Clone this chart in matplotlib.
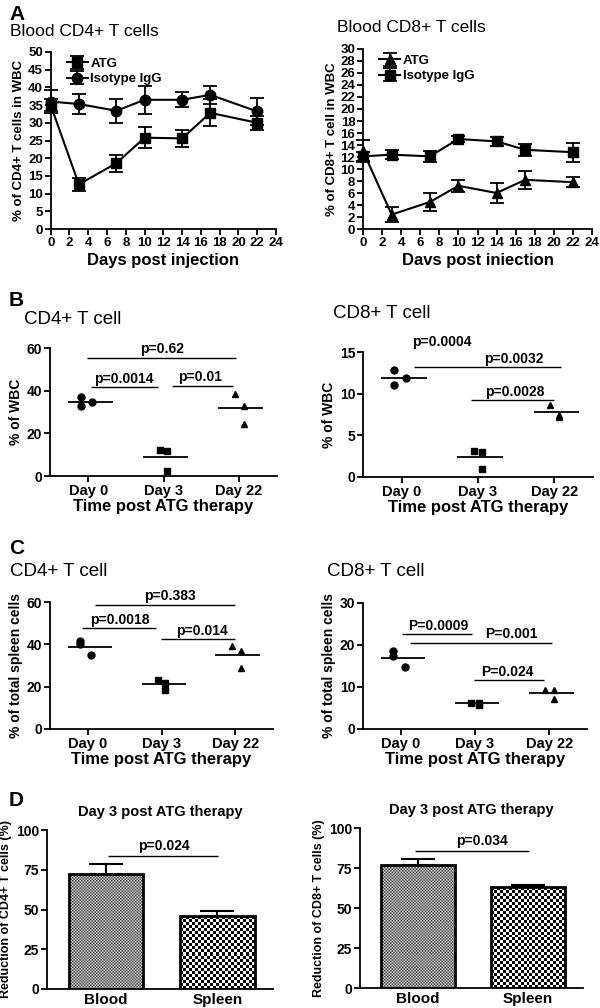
import numpy as np
import matplotlib.pyplot as plt

plt.rcParams['font.family'] = ['Liberation Sans', 'DejaVu Sans']
plt.rcParams['font.weight'] = 'bold'
plt.rcParams['axes.labelweight'] = 'bold'
plt.rcParams['axes.titleweight'] = 'bold'
plt.rcParams['axes.linewidth'] = 1.3

# ---- panel A: blood time course ----
days = [0, 3, 7, 10, 14, 17, 22]
cd4_atg = [35, 12.6, 18.6, 25.8, 25.6, 32.8, 30]
cd4_atg_err = [1.8, 1.8, 2.4, 3.0, 2.5, 3.8, 1.9]
cd4_iso = [36, 35.3, 33.4, 36.5, 36.5, 37.9, 33.2]
cd4_iso_err = [3.2, 2.8, 3.4, 4.0, 2.1, 2.6, 3.8]

cd8_atg = [13, 2.4, 4.5, 7.2, 6.0, 8.2, 7.8]
cd8_atg_err = [1.8, 1.2, 1.5, 1.0, 1.7, 1.5, 0.8]
cd8_iso = [12.1, 12.4, 12.1, 15.0, 14.6, 13.2, 12.8]
cd8_iso_err = [0.8, 0.8, 0.9, 0.5, 0.8, 1.0, 1.6]

groups = ['Day 0', 'Day 3', 'Day 22']

# ---- panel B: % of WBC ----
b_cd4 = [[36.8, 32.7, 34.7], [12.1, 11.5, 2.5], [38.6, 32.9, 24.6]]
b_cd8 = [[12.8, 11.1, 11.9], [3.1, 3.0, 0.96], [8.6, 7.2, 7.5]]

# ---- panel C: % of spleen cells ----
c_cd4 = [[41.6, 40.0, 34.9], [23.0, 18.4, 21.8], [39.3, 36.8, 28.9]]
c_cd8 = [[18.6, 17.3, 14.7], [6.3, 5.8, 6.3], [9.4, 9.2, 7.2]]

# ---- panel D: reduction at day 3 ----
organs = ['Blood', 'Spleen']
d_cd4 = [72.2, 45.8]
d_cd4_err = [6.3, 3.4]
d_cd8 = [76.9, 62.9]
d_cd8_err = [3.9, 1.3]

# horizontal jitter of the dots (as drawn by the original software)
jit = [[-0.1, -0.1, 0.05], [-0.05, 0.05, 0.05], [-0.05, 0.07, 0.07]]

W, H = 600, 1008
fig = plt.figure(figsize=(6, 10.08), dpi=100)


def add_ax(l, t, r, b, ls=10):
    ax = fig.add_axes([l / W, 1 - b / H, (r - l) / W, (b - t) / H])
    for s in ['top', 'right']:
        ax.spines[s].set_visible(False)
    ax.tick_params(direction='out', length=4, width=1.3, labelsize=ls, pad=1.5)
    return ax


def ftext(x, y, s, **kw):
    fig.text(x / W, 1 - y / H, s, **kw)


def course(ax, a, ae, b, be, ma, mb, ymax, ystep, ylab, xlab, la, lb):
    ax.errorbar(days, a, yerr=ae, color='black', marker=ma, ms=7.5, lw=1.5,
                capsize=5, elinewidth=1.3, capthick=1.3, label=la, clip_on=False)
    ax.errorbar(days, b, yerr=be, color='black', marker=mb, ms=7.5, lw=1.5,
                capsize=5, elinewidth=1.3, capthick=1.3, label=lb, clip_on=False)
    ax.set_xlim(0, 24)
    ax.set_ylim(0, ymax)
    ax.set_xticks(range(0, 25, 2))
    ax.set_yticks(np.arange(0, ymax + 0.1, ystep))
    ax.set_ylabel(ylab, fontsize=9.5, labelpad=2)
    ax.set_xlabel(xlab, fontsize=12, labelpad=3)
    ax.legend(loc='upper left', frameon=False, fontsize=9.5, handlelength=1.6,
              handletextpad=0.2, borderaxespad=0.3, labelspacing=0.25,
              bbox_to_anchor=(0.03, 1.02))


def dots(ax, data, ymax, ystep, ylab, sigs, mlo=0.27, mhi=0.33):
    marks = ['o', 's', '^']
    for i, vals in enumerate(data):
        xs = [i + j for j in jit[i]]
        ax.plot(xs, vals, ls='none', marker=marks[i], color='black', ms=5)
        ax.hlines(np.mean(vals), i - mlo, i + mhi, color='black', lw=1.3)
    for x0, x1, y, txt, tx in sigs:
        ax.hlines(y, x0, x1, color='black', lw=1.0)
        ax.text(tx, y + ymax * 0.012, txt, ha='center', va='bottom', fontsize=10)
    ax.set_xlim(-0.51, 2.51)
    ax.set_ylim(0, ymax)
    ax.set_yticks(np.arange(0, ymax + 0.1, ystep))
    ax.set_xticks(range(3))
    ax.set_xticklabels(groups, fontsize=10.5)
    ax.set_ylabel(ylab, fontsize=10, labelpad=3)
    ax.set_xlabel('Time post ATG therapy', fontsize=12, labelpad=1)


def checker(ax, bar, cell, lo, hi, interp):
    x, w, h = bar.get_x(), bar.get_width(), bar.get_height()
    p0 = ax.transData.transform((x, 0))
    p1 = ax.transData.transform((x + w, h))
    nx = max(1, int(round(abs(p1[0] - p0[0]) / cell)))
    ny = max(1, int(round(abs(p1[1] - p0[1]) / cell)))
    iy, ix = np.indices((ny, nx))
    img = np.where((ix + iy) % 2 == 0, lo, hi)
    im = ax.imshow(img, cmap='gray', extent=(x, x + w, 0, h), aspect='auto',
                   interpolation=interp, zorder=1, vmin=0, vmax=1)
    im.set_clip_path(bar)


def bars(ax, vals, errs, ylab, sig_y, sig_txt, sig_x0, sig_tx):
    bs = ax.bar([0, 1], vals, width=0.67, color='none', edgecolor='black', lw=2, zorder=2)
    ax.errorbar([0, 1], vals, yerr=[[0, 0], errs], fmt='none', ecolor='black',
                elinewidth=1.5, capsize=12, capthick=1.5, zorder=3)
    ax.set_xlim(-0.53, 1.5)
    ax.set_ylim(0, 100)
    ax.set_yticks([0, 25, 50, 75, 100])
    ax.set_xticks([0, 1])
    ax.set_xticklabels(organs, fontsize=11)
    ax.tick_params(axis='x', length=0, pad=3)
    ax.set_ylabel(ylab, fontsize=9, labelpad=3)
    ax.set_title('Day 3 post ATG therapy', fontsize=10.5, pad=10)
    ax.hlines(sig_y, sig_x0, 1.01, color='black', lw=1.0)
    ax.text(sig_tx, sig_y + 1.5, sig_txt, ha='center', va='bottom', fontsize=10)
    checker(ax, bs[0], 1.5, 0.25, 0.85, 'antialiased')
    checker(ax, bs[1], 3, 0.0, 1.0, 'nearest')


# A
ax = add_ax(50.7, 52, 276, 229, 9.5)
course(ax, cd4_atg, cd4_atg_err, cd4_iso, cd4_iso_err, 's', 'o', 50, 5,
       '% of CD4+ T cells in WBC', 'Days post injection', 'ATG', 'Isotype IgG')
ax = add_ax(363, 49, 592, 229, 9.5)
course(ax, cd8_atg, cd8_atg_err, cd8_iso, cd8_iso_err, '^', 's', 30, 2,
       '% of CD8+ T cell in WBC', 'Davs post iniection', 'ATG', 'Isotype IgG')

# B
ax = add_ax(50, 348, 277, 476)
dots(ax, b_cd4, 60, 20, '% of WBC',
     [(-0.02, 1.96, 55.3, 'p=0.62', 0.98), (0.04, 0.93, 41.6, 'p=0.0014', 0.47),
      (1.11, 1.93, 42.2, 'p=0.01', 1.49)])
ax = add_ax(363, 352, 593, 477)
dots(ax, b_cd8, 15, 5, '% of WBC',
     [(0.0, 0.95, 15.2, 'p=0.0004', 0.53), (0.16, 2.09, 13.2, 'p=0.0032', 1.47),
      (0.91, 2.0, 9.2, 'p=0.0028', 1.48)])

# C
ax = add_ax(50, 602, 273, 729)
dots(ax, c_cd4, 60, 20, '% of total spleen cells',
     [(0.1, 2.0, 58.7, 'p=0.383', 1.11), (-0.08, 0.93, 47.7, 'p=0.0018', 0.43),
      (0.99, 2.0, 42.4, 'p=0.014', 1.55)])
ax = add_ax(363, 603, 587, 729)
dots(ax, c_cd8, 30, 10, '% of total spleen cells',
     [(0.02, 0.96, 22.6, 'P=0.0009', 0.51), (0.13, 2.04, 20.5, 'P=0.001', 1.49),
      (0.99, 1.93, 11.6, 'P=0.024', 1.44)])

# D
ax = add_ax(47, 830, 273, 989)
bars(ax, d_cd4, d_cd4_err, 'Reduction of CD4+ T cells (%)', 83.9, 'p=0.024', 0.02, 0.52)
ax = add_ax(360, 828, 583, 988)
bars(ax, d_cd8, d_cd8_err, 'Reduction of CD8+ T cells (%)', 85.8, 'p=0.034', -0.03, 0.58)

# panel letters and titles
for lab, y in [('A', 15), ('B', 300), ('C', 548), ('D', 800)]:
    ftext(9, y, lab, fontsize=15, fontweight='bold', va='center')
ftext(10, 31, 'Blood CD4+ T cells', fontsize=12.5, fontweight='normal', va='center')
ftext(337, 28, 'Blood CD8+ T cells', fontsize=12.5, fontweight='normal', va='center')
ftext(24, 319, 'CD4+ T cell', fontsize=13.5, fontweight='normal', va='center')
ftext(333, 314, 'CD8+ T cell', fontsize=13.5, fontweight='normal', va='center')
ftext(10, 572, 'CD4+ T cell', fontsize=13.5, fontweight='normal', va='center')
ftext(327, 572, 'CD8+ T cell', fontsize=13.5, fontweight='normal', va='center')

fig.savefig('out.png', dpi=100)
